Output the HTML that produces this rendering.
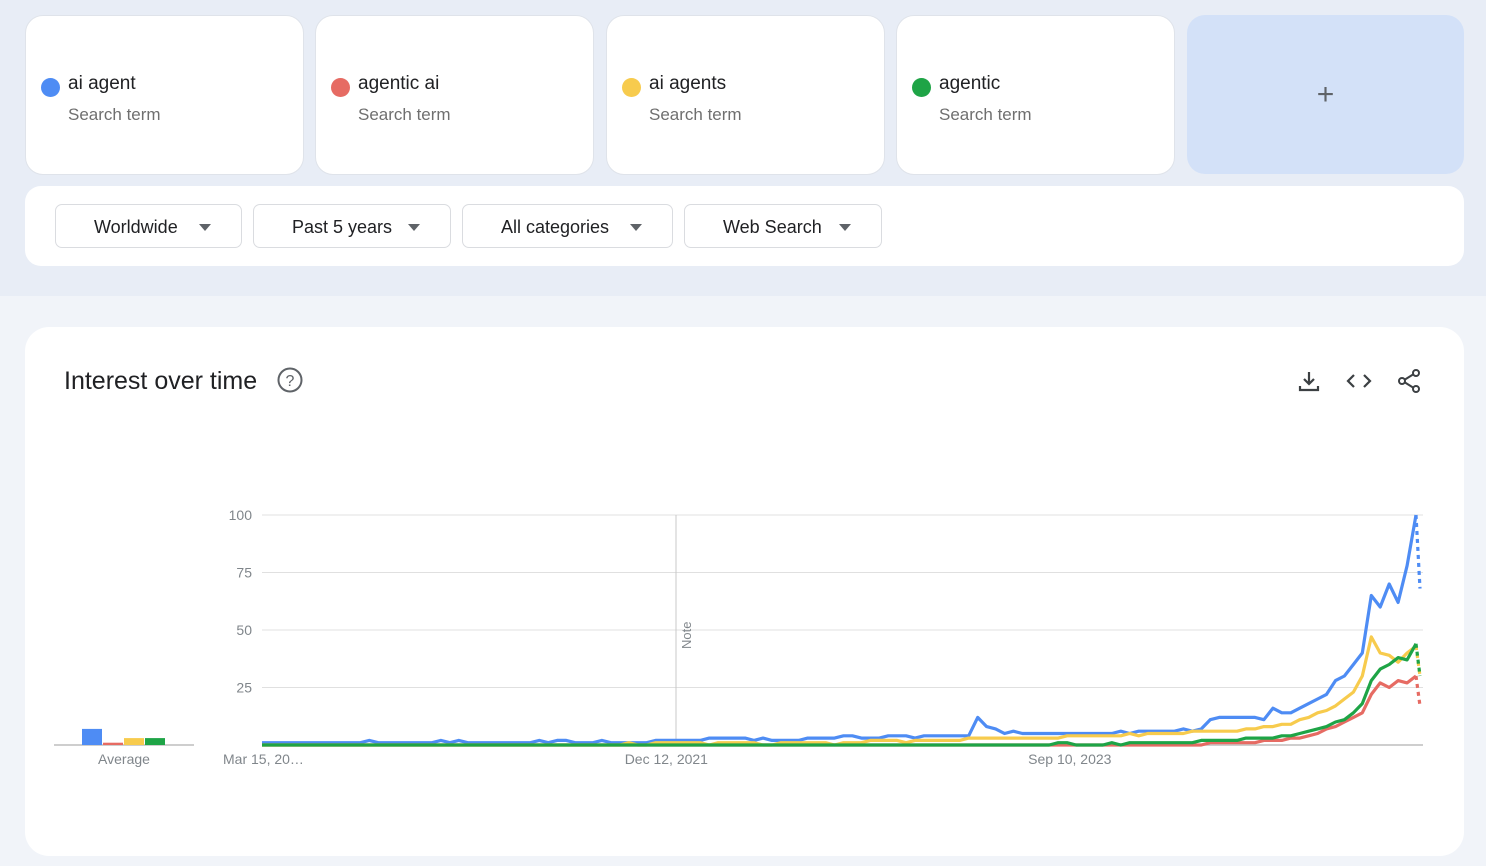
<!DOCTYPE html>
<html><head><meta charset="utf-8">
<style>
*{box-sizing:border-box;margin:0;padding:0}
body{width:1486px;height:866px;background:#f1f4f9;font-family:"Liberation Sans",sans-serif;position:relative;overflow:hidden}
.top{position:absolute;left:0;top:0;width:1486px;height:296px;background:#e8edf6}
.card{position:absolute;top:15px;width:279px;height:160px;background:#fff;border-radius:18px;border:1px solid #dfe3ea}
.dot{position:absolute;left:15px;top:62px;width:19px;height:19px;border-radius:50%}
.term{position:absolute;left:42px;top:57px;font-size:19px;color:#202124}
.sub{position:absolute;left:42px;top:89px;font-size:17px;color:#6f6f6f}
.plus{position:absolute;left:1187px;top:15px;width:277px;height:159px;background:#d3e1f8;border-radius:18px;text-align:center;line-height:159px;font-size:30px;color:#5f6368;font-weight:300}
.filters{position:absolute;left:25px;top:186px;width:1439px;height:80px;background:#fff;border-radius:16px}
.dd{position:absolute;top:18px;height:44px;border:1px solid #dadce0;border-radius:7px;font-size:18px;color:#202124;line-height:44px;padding-left:38px}
.dd:after{content:"";position:absolute;right:30px;top:19px;border-left:6px solid transparent;border-right:6px solid transparent;border-top:7px solid #5f6368}
.chartcard{position:absolute;left:25px;top:327px;width:1439px;height:529px;background:#fff;border-radius:24px}
.title{position:absolute;left:39px;top:40px;font-size:25px;color:#202124}
</style></head><body>
<div class="top"></div>
<div class="card" style="left:25px"><div class="dot" style="background:#4e8cf4"></div><div class="term">ai agent</div><div class="sub">Search term</div></div>
<div class="card" style="left:315px"><div class="dot" style="background:#e66b63"></div><div class="term">agentic ai</div><div class="sub">Search term</div></div>
<div class="card" style="left:606px"><div class="dot" style="background:#f7cb4d"></div><div class="term">ai agents</div><div class="sub">Search term</div></div>
<div class="card" style="left:896px"><div class="dot" style="background:#1ea446"></div><div class="term">agentic</div><div class="sub">Search term</div></div>
<div class="plus">+</div>
<div class="filters">
<div class="dd" style="left:30px;width:187px">Worldwide</div>
<div class="dd" style="left:228px;width:198px">Past 5 years</div>
<div class="dd" style="left:437px;width:211px">All categories</div>
<div class="dd" style="left:659px;width:198px">Web Search</div>
</div>
<div class="chartcard">
<div class="title">Interest over time</div>
<svg style="position:absolute;left:252px;top:40px" width="28" height="28"><circle cx="13" cy="13" r="11.5" fill="none" stroke="#5f6368" stroke-width="2"/><text x="13" y="19" font-size="16" text-anchor="middle" fill="#5f6368" font-family="Liberation Sans">?</text></svg>
<svg style="position:absolute;left:1272px;top:42px" width="24" height="24"><path d="M12 3v12M7 10l5 5 5-5M3 17v4h18v-4" fill="none" stroke="#3c4043" stroke-width="2.2"/></svg>
<svg style="position:absolute;left:1321px;top:42px" width="26" height="24"><path d="M8 6l-6 6 6 6M18 6l6 6-6 6" fill="none" stroke="#3c4043" stroke-width="2.2"/></svg>
<svg style="position:absolute;left:1372px;top:41px" width="26" height="26"><circle cx="19" cy="5" r="3" fill="none" stroke="#3c4043" stroke-width="2"/><circle cx="5" cy="13" r="3" fill="none" stroke="#3c4043" stroke-width="2"/><circle cx="19" cy="21" r="3" fill="none" stroke="#3c4043" stroke-width="2"/><path d="M8 11.5l8-5M8 14.5l8 5" stroke="#3c4043" stroke-width="2"/></svg>
</div>
<svg id="chart" style="position:absolute;left:0;top:0" width="1486" height="866"></svg>
<script>
const termNames=["ai agent","agentic ai","ai agents","agentic"];
const averages=[7,1,3,3];
const yTicks=[25,50,75,100];
const xLabels=["Mar 15, 20…","Dec 12, 2021","Sep 10, 2023"];
const xLabelIdx=[0,45.2,90.3];
const blue=[1,1,1,1,1,1,1,1,1,1, 1,1,2,1,1,1,1,1,1,1, 2,1,2,1,1,1,1,1,1,1, 1,2,1,2,2,1,1,1,2,1, 1,1,1,1,2,2,2,2,2,2, 3,3,3,3,3,2,3,2,2,2, 2,3,3,3,3,4,4,3,3,3, 4,4,4,3,4,4,4,4,4,4, 12,8,7,5,6,5,5,5,5,5, 5,5,5,5,5,5,6,5,6,6, 6,6,6,7,6,7,11,12,12,12, 12,12,11,16,14,14,16,18,20,22, 28,30,35,40,65,60,70,62,78,100];
const red=[0,0,0,0,0,0,0,0,0,0, 0,0,0,0,0,0,0,0,0,0, 0,0,0,0,0,0,0,0,0,0, 0,0,0,0,0,0,0,0,0,0, 0,0,0,0,0,0,0,0,0,0, 0,0,0,0,0,0,0,0,0,0, 0,0,0,0,0,0,0,0,0,0, 0,0,0,0,0,0,0,0,0,0, 0,0,0,0,0,0,0,0,0,0, 0,0,0,0,0,0,0,0,0,0, 0,0,0,0,0,0,1,1,1,1, 1,1,2,2,2,3,3,4,5,7, 8,10,12,14,22,27,25,28,27,30];
const yellow=[0,0,0,0,0,0,0,0,0,0, 0,0,0,0,0,0,0,0,0,0, 0,0,0,0,0,0,0,0,0,0, 0,0,0,0,0,0,0,0,0,0, 0,1,0,0,1,1,1,1,1,1, 0,1,1,1,1,1,0,0,1,1, 1,1,1,1,0,1,1,1,2,2, 2,2,1,2,2,2,2,2,2,3, 3,3,3,3,3,3,3,3,3,3, 4,4,4,4,4,4,4,5,4,5, 5,5,5,5,6,6,6,6,6,6, 7,7,8,8,9,9,11,12,14,15, 17,20,23,30,47,40,39,36,40,43];
const green=[0,0,0,0,0,0,0,0,0,0, 0,0,0,0,0,0,0,0,0,0, 0,0,0,0,0,0,0,0,0,0, 0,0,0,0,0,0,0,0,0,0, 0,0,0,0,0,0,0,0,0,0, 0,0,0,0,0,0,0,0,0,0, 0,0,0,0,0,0,0,0,0,0, 0,0,0,0,0,0,0,0,0,0, 0,0,0,0,0,0,0,0,0,1, 1,0,0,0,0,1,0,1,1,1, 1,1,1,1,1,2,2,2,2,2, 3,3,3,3,4,4,5,6,7,8, 10,11,14,18,28,33,35,38,37,44];
const partial=[68,17,30,30];
const colors=["#4e8cf4","#e66b63","#f7cb4d","#1ea446"];
const NS="http://www.w3.org/2000/svg";
const svg=document.getElementById("chart");
const X0=262,X1=1416,Y0=745,Y100=515;
const N=blue.length;
const xs=i=>X0+i*(X1-X0)/(N-1);
const ys=v=>Y0-(v/100)*(Y0-Y100);
function mk(t,a){const e=document.createElementNS(NS,t);for(const k in a)e.setAttribute(k,a[k]);svg.appendChild(e);return e;}
yTicks.forEach(t=>{const l=mk("line",{x1:X0,x2:1423,y1:ys(t),y2:ys(t),stroke:"#e0e0e0","stroke-width":1});


const tx=mk("text",{x:252,y:ys(t)+5,"text-anchor":"end","font-size":14,fill:"#80868b","font-family":"Liberation Sans"});tx.textContent=t;

});
const base=mk("line",{x1:X0,x2:1423,y1:Y0,y2:Y0,stroke:"#bdbdbd","stroke-width":1.5});


const nx=676;
const nl=mk("line",{x1:nx,x2:nx,y1:Y100,y2:Y0,stroke:"#c8c8c8","stroke-width":1});


const nt=mk("text",{x:0,y:0,"font-size":13,fill:"#80868b","font-family":"Liberation Sans",transform:`translate(${nx+15},649) rotate(-90)`});nt.textContent="Note";


xLabels.forEach((s,k)=>{const t=mk("text",{x:xs(xLabelIdx[k]),y:764,"text-anchor":k==0?"start":"middle","font-size":14,fill:"#80868b","font-family":"Liberation Sans"});t.textContent=s;
if(k==0)t.setAttribute("x",223);

});
[blue,red,yellow,green].forEach((arr,s)=>{const d=arr.map((v,i)=>(i?"L":"M")+xs(i).toFixed(1)+","+ys(v).toFixed(1)).join("");
const p=mk("path",{d:d,fill:"none",stroke:colors[s],"stroke-width":3.2,"stroke-linejoin":"round"});


const q=mk("path",{d:`M${xs(N-1)},${ys(arr[N-1])}L${xs(N-1)+4},${ys(partial[s])}`,fill:"none",stroke:colors[s],"stroke-width":3.2,"stroke-dasharray":"4,4"});

});
const ab=mk("line",{x1:54,x2:194,y1:Y0,y2:Y0,stroke:"#9e9e9e","stroke-width":1});


averages.forEach((v,k)=>{const h=v/100*(Y0-Y100);const r=mk("rect",{x:82+k*21,y:Y0-h,width:20,height:h,fill:colors[k]});

});
const al=mk("text",{x:124,y:764,"text-anchor":"middle","font-size":14,fill:"#80868b","font-family":"Liberation Sans"});al.textContent="Average";


</script>
</body></html>
